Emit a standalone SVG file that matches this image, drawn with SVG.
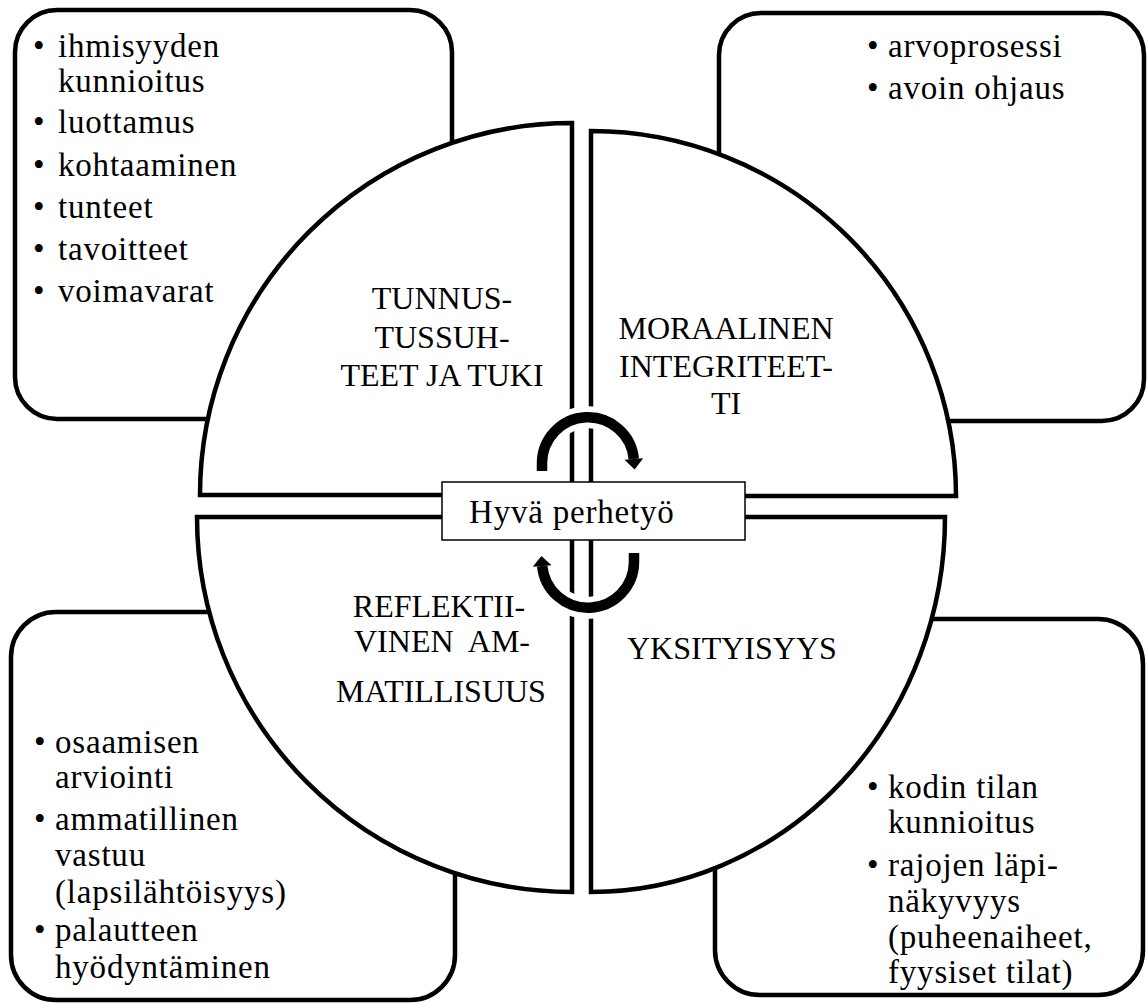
<svg xmlns="http://www.w3.org/2000/svg" width="1147" height="1003" viewBox="0 0 1147 1003">
<style>
.box{fill:#fff;stroke:#000;stroke-width:4.5}
.q{fill:#fff;stroke:#000;stroke-width:4.5;stroke-linejoin:miter}
.t{font-family:'Liberation Serif','Times New Roman',serif;font-size:33px;letter-spacing:0.8px;fill:#000}
.l{font-family:'Liberation Serif','Times New Roman',serif;font-size:32px;fill:#000}
.c{text-anchor:middle}
.under{fill:none;stroke:#fff;stroke-width:22}
.arc{fill:none;stroke:#000;stroke-width:10.5}
</style>
<rect width="1147" height="1003" fill="#fff"/>
<g id="box-tl"><rect class="box" x="15" y="10" width="437" height="409" rx="42"/></g>
<g id="box-tr"><rect class="box" x="719" y="13" width="425" height="408" rx="42"/></g>
<g id="box-bl"><rect class="box" x="11" y="612" width="444" height="388" rx="45"/></g>
<g id="box-br"><rect class="box" x="715" y="619" width="428" height="376" rx="45"/></g>

<g id="quad-tl"><path class="q" d="M572 123 L572 495 L200 495 A372 372 0 0 1 572 123 Z"/></g>
<g id="quad-tr"><path class="q" d="M591 131 A365 365 0 0 1 956 496 L591 496 Z"/></g>
<g id="quad-bl"><path class="q" d="M572 517 L197 517 A375 375 0 0 0 572 892 Z"/></g>
<g id="quad-br"><path class="q" d="M591 517 L945 517 A354 375 0 0 1 591 892 Z"/></g>

<g id="connectors">
<path class="under" d="M542 471 L542 463 A46 46 0 0 1 633.8 459"/>
<path class="under" d="M634 553 L634 562 A46 46 0 0 1 542.2 566"/>
<path class="arc" d="M542 471 L542 463 A46 46 0 0 1 633.8 459"/>
<polygon points="624.5,459.8 643.2,458.2 634.6,469.5" fill="#000"/>
<path class="arc" d="M634 553 L634 562 A46 46 0 0 1 542.2 566"/>
<polygon points="532.8,566.8 551.6,565.2 541.4,556" fill="#000"/>
</g>

<g id="center">
<rect x="442" y="482" width="303" height="58" fill="#fff" stroke="#000" stroke-width="1.5"/>
<text class="t" x="469" y="523">Hyvä perhetyö</text>
</g>

<g id="text-tl">
<text class="t" x="33" y="57">•</text><text class="t" x="58" y="57">ihmisyyden</text>
<text class="t" x="58" y="92">kunnioitus</text>
<text class="t" x="33" y="133">•</text><text class="t" x="58" y="133">luottamus</text>
<text class="t" x="33" y="176">•</text><text class="t" x="58" y="176">kohtaaminen</text>
<text class="t" x="33" y="218">•</text><text class="t" x="58" y="218">tunteet</text>
<text class="t" x="33" y="260">•</text><text class="t" x="58" y="260">tavoitteet</text>
<text class="t" x="33" y="302">•</text><text class="t" x="58" y="302">voimavarat</text>
</g>
<g id="text-tr">
<text class="t" x="867" y="57">•</text><text class="t" x="888" y="57">arvoprosessi</text>
<text class="t" x="867" y="99">•</text><text class="t" x="888" y="99">avoin ohjaus</text>
</g>
<g id="text-bl">
<text class="t" x="34" y="753">•</text><text class="t" x="55" y="753">osaamisen</text>
<text class="t" x="55" y="788">arviointi</text>
<text class="t" x="34" y="830">•</text><text class="t" x="55" y="830">ammatillinen</text>
<text class="t" x="55" y="866">vastuu</text>
<text class="t" x="55" y="903">(lapsilähtöisyys)</text>
<text class="t" x="34" y="941">•</text><text class="t" x="55" y="941">palautteen</text>
<text class="t" x="55" y="978">hyödyntäminen</text>
</g>
<g id="text-br">
<text class="t" x="867" y="798">•</text><text class="t" x="888" y="798">kodin tilan</text>
<text class="t" x="888" y="833">kunnioitus</text>
<text class="t" x="867" y="876">•</text><text class="t" x="888" y="876">rajojen läpi-</text>
<text class="t" x="888" y="912">näkyvyys</text>
<text class="t" x="888" y="948">(puheenaiheet,</text>
<text class="t" x="888" y="983">fyysiset tilat)</text>
</g>
<g id="labels">
<text class="l c" x="442" y="309">TUNNUS-</text>
<text class="l c" x="442" y="348">TUSSUH-</text>
<text class="l c" x="442" y="386">TEET JA TUKI</text>
<text class="l c" x="726" y="339">MORAALINEN</text>
<text class="l c" x="726" y="377">INTEGRITEET-</text>
<text class="l c" x="726" y="414">TI</text>
<text class="l c" x="439" y="617">REFLEKTII-</text>
<text class="l c" x="442" y="652" xml:space="preserve">VINEN  AM-</text>
<text class="l c" x="441" y="702">MATILLISUUS</text>
<text class="l" x="627" y="659">YKSITYISYYS</text>
</g>
</svg>
